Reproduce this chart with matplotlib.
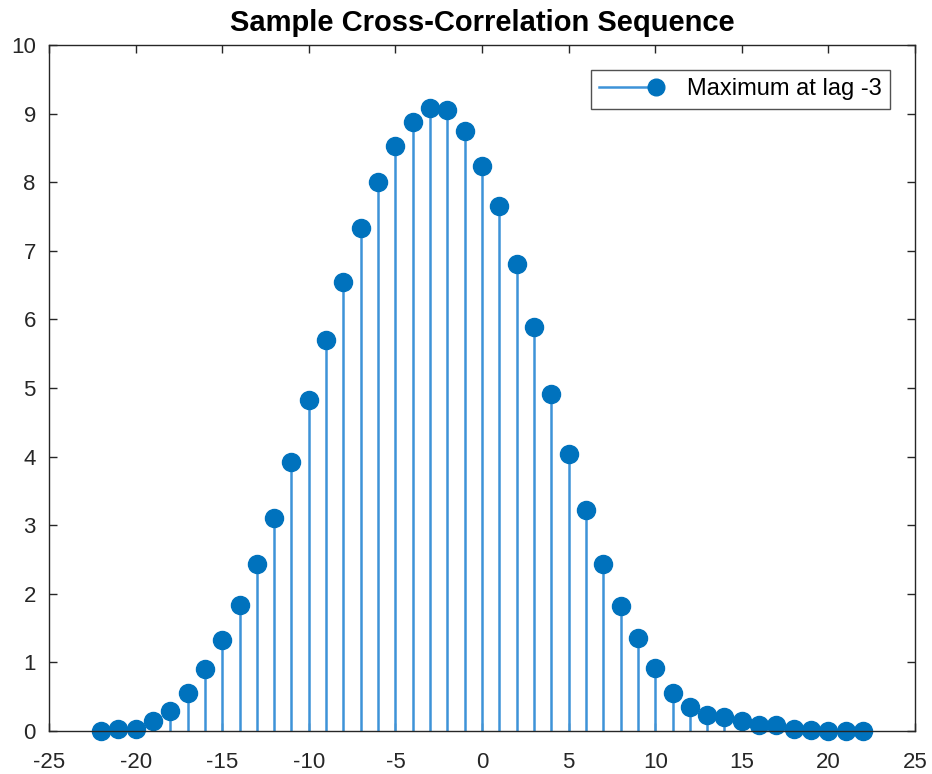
import numpy as np
import matplotlib
matplotlib.use("Agg")
import matplotlib.pyplot as plt
from matplotlib.lines import Line2D
from matplotlib.legend_handler import HandlerLine2D

plt.rcParams['font.family'] = ['Liberation Sans', 'DejaVu Sans']
plt.rcParams['axes.unicode_minus'] = False

# Cross-correlation estimate at each lag
lags = list(range(-22, 23))
xcorr = [0.00, 0.03, 0.03, 0.15, 0.29, 0.56, 0.91, 1.32, 1.84, 2.43,
         3.10, 3.92, 4.82, 5.70, 6.55, 7.33, 8.00, 8.53, 8.88, 9.08,
         9.05, 8.75, 8.24, 7.65, 6.81, 5.89, 4.91, 4.04, 3.22, 2.43,
         1.82, 1.36, 0.92, 0.56, 0.35, 0.23, 0.20, 0.14, 0.09, 0.09,
         0.03, 0.01, 0.00, 0.00, 0.00]

title = "Sample Cross-Correlation Sequence"
legend_label = "Maximum at lag -3"
xticks = list(range(-25, 26, 5))
yticks = list(range(0, 11))

marker_color = "#0072BD"
stem_color = "#3d93d8"
axis_color = "#262626"


class EndMarkerHandler(HandlerLine2D):
    """Legend handle: a line with the marker placed at its right end."""
    def create_artists(self, legend, orig_handle, xdescent, ydescent,
                       width, height, fontsize, trans):
        y = (height - ydescent) / 2
        line = Line2D([-xdescent, -xdescent + width], [y, y])
        self.update_prop(line, orig_handle, legend)
        line.set_markevery([1])
        line.set_transform(trans)
        return [line]


fig = plt.figure(figsize=(9.32, 7.74), dpi=100)
ax = fig.add_axes([49 / 932, 1 - 731 / 774, (915 - 49) / 932, (731 - 45) / 774])

markerline, stemlines, baseline = ax.stem(lags, xcorr, basefmt=" ")
plt.setp(stemlines, color=stem_color, linewidth=1.8)
plt.setp(markerline, color=marker_color, marker="o", markersize=13,
         markerfacecolor=marker_color, markeredgecolor=marker_color)
markerline.set_clip_on(False)

ax.set_xlim(-25, 25)
ax.set_ylim(0, 10)
ax.set_xticks(xticks)
ax.set_yticks(yticks)
ax.tick_params(direction="in", top=True, right=True, length=6, width=1.0,
               labelsize=16, colors=axis_color)
ax.tick_params(axis="x", pad=15)
ax.tick_params(axis="y", pad=9.5)
for s in ax.spines.values():
    s.set_color(axis_color)
    s.set_linewidth(1.0)

ax.set_title(title, fontsize=21, fontweight="bold", pad=10, color="#000000")

handle = Line2D([0], [0], color=stem_color, linewidth=1.8, marker="o",
                markersize=12, markerfacecolor=marker_color,
                markeredgecolor=marker_color)
leg = ax.legend([handle], [legend_label], loc="upper right",
                bbox_to_anchor=(890 / 932, 1 - 70 / 774),
                bbox_transform=fig.transFigure,
                fontsize=17, frameon=True, fancybox=False,
                edgecolor=axis_color, handlelength=2.4, handletextpad=1.3,
                borderpad=0.36, borderaxespad=0.0,
                handler_map={Line2D: EndMarkerHandler()})
leg.get_frame().set_linewidth(1.0)

fig.savefig("out.png", dpi=100, facecolor="white")
